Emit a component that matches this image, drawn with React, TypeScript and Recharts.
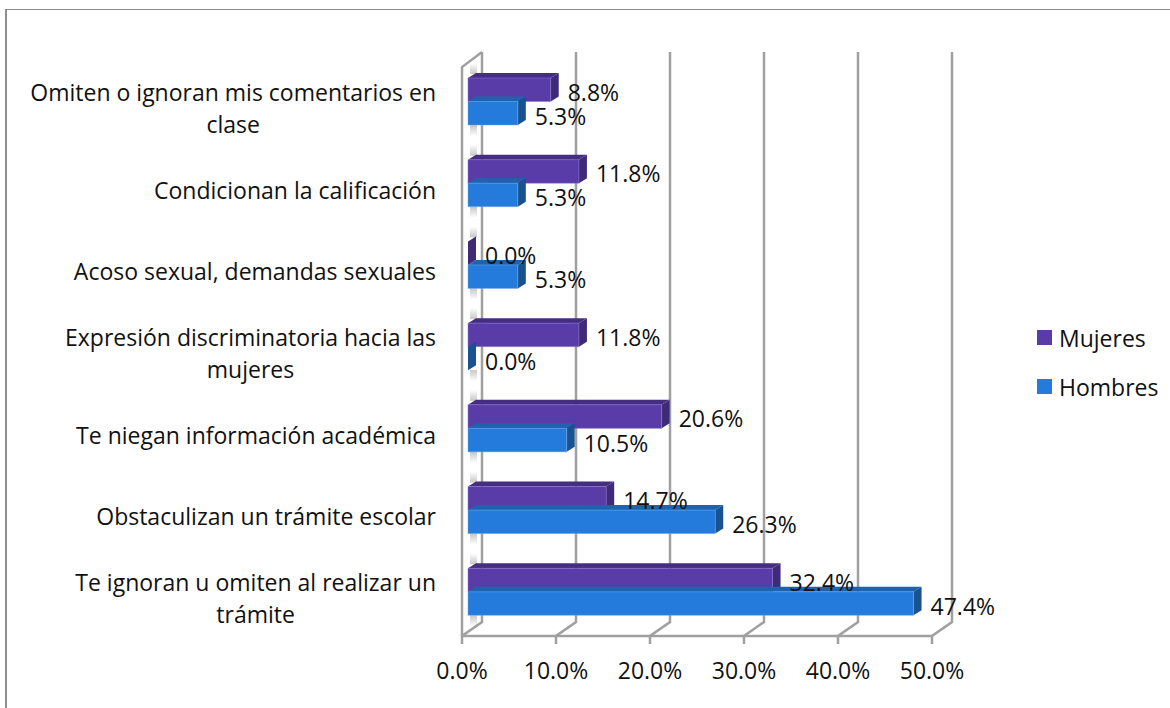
import React from "react";
import { BarChart, Bar, XAxis, YAxis, CartesianGrid, LabelList, Legend } from "recharts";

const categories = [
  "Omiten o ignoran mis comentarios en|clase",
  "Condicionan la calificación",
  "Acoso sexual, demandas sexuales",
  "Expresión discriminatoria hacia las|mujeres",
  "Te niegan información académica",
  "Obstaculizan un trámite escolar",
  "Te ignoran u omiten al realizar un|trámite",
];
const mujeres = [8.8, 11.8, 0.0, 11.8, 20.6, 14.7, 32.4];
const hombres = [5.3, 5.3, 5.3, 0.0, 10.5, 26.3, 47.4];
const xTicks = [0, 10, 20, 30, 40, 50];
const seriesNames = ["Mujeres", "Hombres"];

const data = categories.map((name, i) => ({ name, Mujeres: mujeres[i], Hombres: hombres[i] }));

const FONT = "'Open Sans', sans-serif";
const FS = 23;
const TEXT = "#111111";
const GRID = "#a0a0a0";
const DX = 8;
const DY = 5;

const measure = (s: string) => {
  const c = document.createElement("canvas").getContext("2d")!;
  c.font = `${FS}px 'Open Sans'`;
  return c.measureText(s).width;
};

const Bar3D = (front: string, top: string, side: string, edge: string, shadow: "up" | "down") => (p: any) => {
  const { x, y, width, height } = p;
  return (
    <g>
      {shadow === "up" ? (
        <rect x={x + 2} y={y - 15} width={7} height={11} fill="url(#shadowUp)" />
      ) : (
        <rect x={x + 2} y={y + height} width={7} height={11} fill="url(#shadowDown)" />
      )}
      {width > 0 && (
        <polygon
          points={`${x},${y} ${x + DX},${y - DY} ${x + width + DX},${y - DY} ${x + width},${y}`}
          fill={top}
        />
      )}
      <polygon
        points={`${x + width},${y} ${x + width + DX},${y - DY} ${x + width + DX},${y + height - DY} ${x + width},${y + height}`}
        fill={side}
      />
      {width > 0 && (
        <rect x={x} y={y} width={width} height={height} fill={front} stroke={edge} strokeOpacity={0.5} strokeWidth={1} />
      )}
    </g>
  );
};

const GridLine = (p: any) => {
  const { x1, y1, y2, index } = p;
  const bx = x1 + 14;
  const fx = x1 - 6;
  const topB = y1 - 9;
  const floorB = y2 - 11;
  const floorF = y2 + 3;
  return (
    <g stroke={GRID} strokeWidth={2.5} fill="none">
      <polyline points={`${bx},${topB} ${bx},${floorB} ${fx},${floorF} ${fx},${floorF + 8}`} />
      {index === 0 && <polyline points={`${bx},${topB} ${fx},${topB + 15} ${fx},${floorF}`} />}
      {index === 0 && <line x1={fx} y1={floorF} x2={fx + 470} y2={floorF} />}
    </g>
  );
};

const CatTick = (p: any) => {
  const { x, y, payload } = p;
  const lines: string[] = String(payload.value).split("|");
  const widest = Math.max(...lines.map(measure));
  const cx = x - widest / 2;
  const lh = 32;
  const y0 = y + 6 - ((lines.length - 1) * lh) / 2;
  return (
    <text fontFamily={FONT} fontSize={FS} fill={TEXT} textAnchor="middle" dominantBaseline="central">
      {lines.map((l, i) => (
        <tspan key={i} x={cx} y={y0 + i * lh}>
          {l}
        </tspan>
      ))}
    </text>
  );
};

const BarLabel = (dy: number) => (p: any) => {
  const { x, y, width, height, value } = p;
  return (
    <text
      x={x + width + 17}
      y={y + height / 2 + dy}
      fontFamily={FONT}
      fontSize={FS}
      fill={TEXT}
      dominantBaseline="central"
    >
      {Number(value).toFixed(1)}%
    </text>
  );
};

const LegendBox = (p: any) => {
  const items: any[] = p.payload || [];
  return (
    <div style={{ fontFamily: FONT, fontSize: FS, color: TEXT }}>
      {seriesNames.map((name) => {
        const it = items.find((e) => e.value === name && e.color !== "none");
        return (
          <div key={name} style={{ display: "flex", alignItems: "center", height: 49 }}>
            <span style={{ width: 15, height: 15, background: it ? it.color : "none", marginRight: 7 }} />
            <span>{name}</span>
          </div>
        );
      })}
    </div>
  );
};

export default function App() {
  return (
    <div
      style={{
        position: "absolute",
        left: 0,
        top: 0,
        width: 1170,
        height: 708,
        overflow: "hidden",
        background: "#fff",
      }}
    >
      <div
        style={{
          position: "absolute",
          left: 5,
          top: 9,
          width: 1180,
          height: 720,
          borderLeft: "2px solid #8f8f8f",
          borderTop: "1px solid #8c8c8c",
          boxSizing: "border-box",
        }}
      />
      <BarChart
        width={1170}
        height={708}
        layout="vertical"
        data={data}
        barSize={23.5}
        barGap={0}
        margin={{ top: 61, bottom: 45, left: 436, right: 102 }}
        style={{ position: "absolute", left: 0, top: 0 }}
      >
        <defs>
          <linearGradient id="shadowUp" x1="0" y1="0" x2="0" y2="1">
            <stop offset="0" stopColor="#999" stopOpacity={0} />
            <stop offset="1" stopColor="#999" stopOpacity={0.55} />
          </linearGradient>
          <linearGradient id="shadowDown" x1="0" y1="0" x2="0" y2="1">
            <stop offset="0" stopColor="#999" stopOpacity={0.55} />
            <stop offset="1" stopColor="#999" stopOpacity={0} />
          </linearGradient>
        </defs>
        <CartesianGrid horizontal={false} vertical={GridLine as any} />
        <XAxis
          type="number"
          domain={[0, 50]}
          ticks={xTicks}
          tickFormatter={(v: number) => `${v.toFixed(1)}%`}
          axisLine={false}
          tickLine={false}
          interval={0}
          dx={-6}
          tickMargin={24}
          tick={{ fontFamily: FONT, fontSize: FS, fill: TEXT }}
        />
        <YAxis
          type="category"
          dataKey="name"
          width={32}
          axisLine={false}
          tickLine={false}
          interval={0}
          tick={CatTick as any}
          tickMargin={26}
        />
        <YAxis yAxisId="labels" type="category" dataKey="name" hide />
        <Legend
          layout="vertical"
          align="right"
          verticalAlign="top"
          content={LegendBox as any}
          wrapperStyle={{ position: "absolute", left: 1037, top: 313, width: 130 }}
        />
        <Bar
          dataKey="Mujeres"
          fill="#5a3ca9"
          isAnimationActive={false}
          shape={Bar3D("#5a3ca9", "#452e82", "#3f2a77", "#8a74cc", "up") as any}
        />
        <Bar
          dataKey="Hombres"
          fill="#247bdb"
          isAnimationActive={false}
          shape={Bar3D("#247bdb", "#1f62ad", "#1a5290", "#6fa8e8", "down") as any}
        >
          <LabelList dataKey="Hombres" content={BarLabel(2.5) as any} />
        </Bar>
        <Bar
          yAxisId="labels"
          dataKey="Mujeres"
          legendType="none"
          fill="none"
          isAnimationActive={false}
          shape={(() => null) as any}
        >
          <LabelList dataKey="Mujeres" content={BarLabel(-10.25) as any} />
        </Bar>
      </BarChart>
    </div>
  );
}
